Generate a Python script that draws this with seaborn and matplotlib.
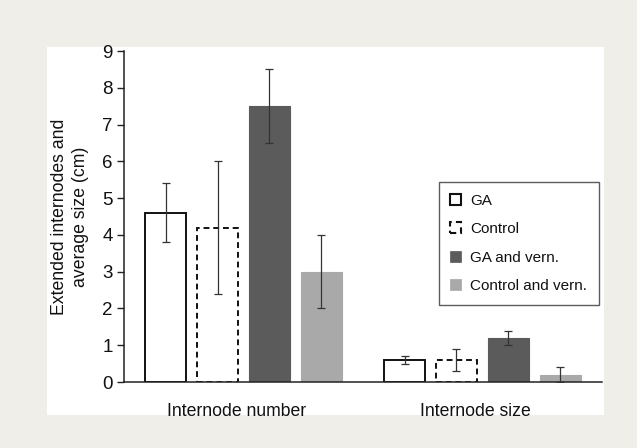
import matplotlib
matplotlib.use("Agg")
import matplotlib.pyplot as plt
import matplotlib.patches as mpatches
import matplotlib.transforms as mtransforms
import seaborn as sns
import pandas as pd
import numpy as np

categories = ["Internode number", "Internode size"]
groups = ["GA", "Control", "GA and vern.", "Control and vern."]
means_number = [4.6, 4.2, 7.5, 3.0]
err_number = [0.8, 1.8, 1.0, 1.0]
means_size = [0.6, 0.6, 1.2, 0.2]
err_size = [0.1, 0.3, 0.2, 0.2]
y_ticks = [0, 1, 2, 3, 4, 5, 6, 7, 8, 9]
y_label = "Extended internodes and\naverage size (cm)"

face_colors = ["#ffffff", "#ffffff", "#5b5b5b", "#a9a9a9"]
edge_colors = ["#111111", "#111111", "#5b5b5b", "#a9a9a9"]
edge_styles = ["solid", (0, (3, 2)), "solid", "solid"]

rows = []
for cat, m, e in [(categories[0], means_number, err_number), (categories[1], means_size, err_size)]:
    for g, mv, ev in zip(groups, m, e):
        rows.append({"category": cat, "group": g, "value": mv, "err": ev})
df = pd.DataFrame(rows)

sns.set_theme(style="white")
plt.rcParams["font.family"] = ["Liberation Sans", "DejaVu Sans"]

fig = plt.figure(figsize=(6.37, 4.48), dpi=100)
fig.patch.set_facecolor("#efeee8")
fig.patches.append(mpatches.Rectangle((0.074, 0.0737), 0.874, 0.8214, transform=fig.transFigure,
                                      facecolor="white", edgecolor="none", zorder=-10))
ax = fig.add_axes([0.1947, 0.1473, 0.7503, 0.7388])
ax.set_facecolor("none")

sns.barplot(data=df, x="category", y="value", hue="group", order=categories, hue_order=groups,
            palette=face_colors, errorbar=None, width=0.87, gap=0.2, ax=ax, legend=False,
            saturation=1)

# style bars and add error bars from patch positions
bars = [p for p in ax.patches if isinstance(p, mpatches.Rectangle)]
for i, g in enumerate(groups):
    sub = df[df["group"] == g].set_index("category").loc[categories]
    for j, cat in enumerate(categories):
        p = bars[i * len(categories) + j]
        p.set_facecolor(face_colors[i])
        p.set_edgecolor(edge_colors[i])
        p.set_linestyle(edge_styles[i])
        p.set_linewidth(1.4 if i < 2 else 0.8)
        cx = p.get_x() + p.get_width() / 2
        ax.errorbar(cx, sub.loc[cat, "value"], yerr=sub.loc[cat, "err"], fmt="none",
                    ecolor="#333333", elinewidth=0.9, capsize=3, capthick=0.9, zorder=5)

ax.set_ylim(0, 9)
ax.set_xlim(-0.5, 1.5)
ax.set_yticks(y_ticks)
ax.set_yticklabels([str(t) for t in y_ticks], fontsize=13.5, color="#111111")
ax.set_xticks([0, 1])
ax.set_xticklabels(categories, fontsize=12.7, color="#111111")
ax.set_xticks([-0.5, 0.5, 1.5], minor=True)
ax.tick_params(axis="x", which="major", length=0, pad=15)
ax.tick_params(axis="x", which="minor", length=5, width=1, color="#222222", direction="out")
ax.tick_params(axis="y", length=5, width=1, color="#222222", direction="out", left=True, pad=3)
shift = mtransforms.ScaledTranslation(-7 / 100, 0, fig.dpi_scale_trans)
for lab in ax.get_xticklabels():
    lab.set_transform(lab.get_transform() + shift)
ax.set_xlabel("")
ax.set_ylabel(y_label, fontsize=12.7, color="#111111", linespacing=1.3, labelpad=10)

for s in ["top", "right"]:
    ax.spines[s].set_visible(False)
for s in ["left", "bottom"]:
    ax.spines[s].set_color("#222222")
    ax.spines[s].set_linewidth(1.1)

handles = [mpatches.Patch(facecolor=face_colors[i], edgecolor=edge_colors[i] if i < 2 else face_colors[i],
                          linestyle=edge_styles[i], linewidth=1.5 if i < 2 else 0.5, label=groups[i])
           for i in range(len(groups))]
leg = ax.legend(handles=handles, loc="center", bbox_to_anchor=(0.826, 0.419), fontsize=11,
                frameon=True, fancybox=False, handlelength=0.7, handleheight=0.7,
                handletextpad=0.6, labelspacing=0.95, borderpad=0.75, borderaxespad=0)
leg.get_frame().set_edgecolor("#333333")
leg.get_frame().set_linewidth(1.0)
for t in leg.get_texts():
    t.set_color("#111111")

fig.savefig("out.png", dpi=100, facecolor=fig.get_facecolor())
